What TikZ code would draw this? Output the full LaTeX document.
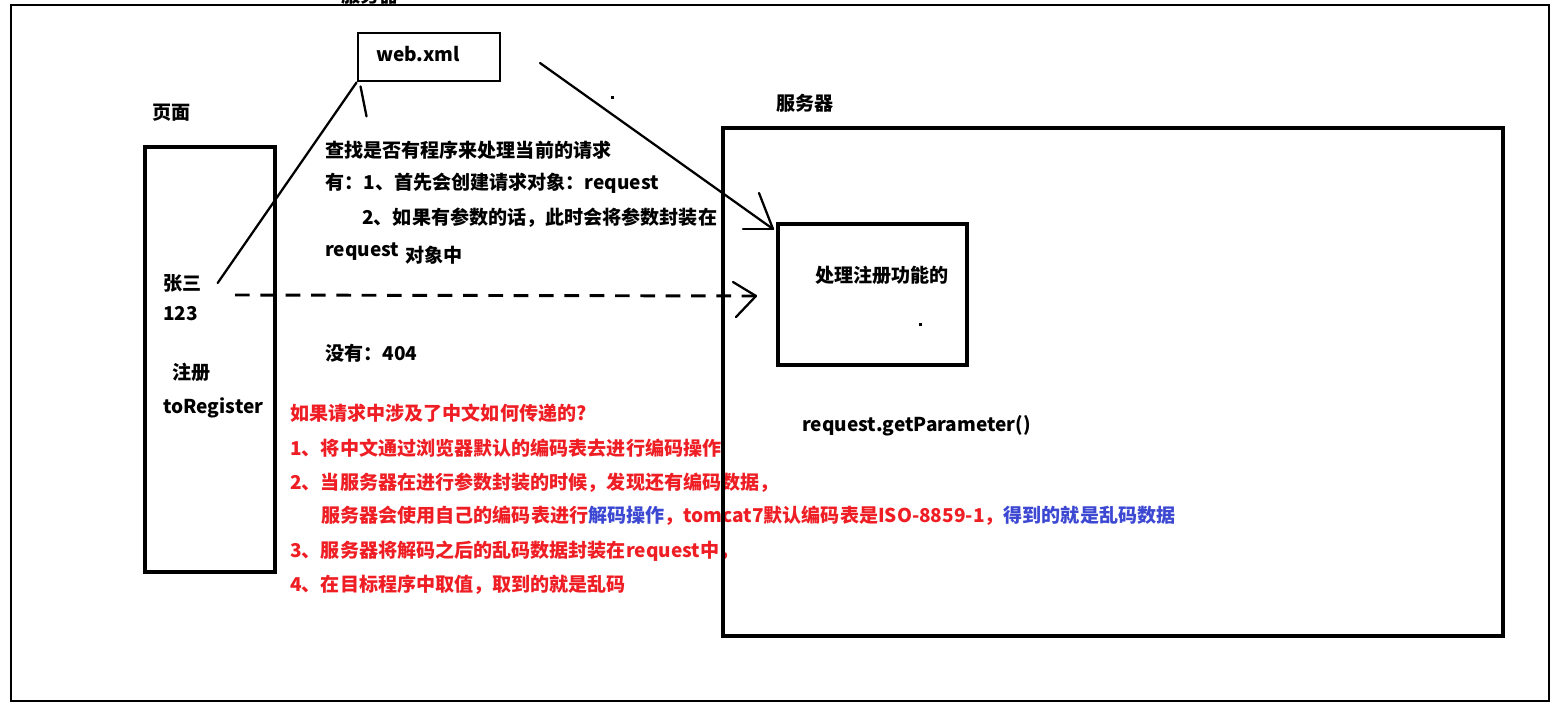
\documentclass[tikz,border=0pt]{standalone}
\usepackage{fontspec}
\setmainfont{Noto Sans CJK SC}
\usetikzlibrary{calc}
\definecolor{redtxt}{RGB}{238,30,36}
\definecolor{bluetxt}{RGB}{60,72,210}
\begin{document}
\begin{tikzpicture}[x=0.75pt,y=-0.75pt,
  font=\bfseries\fontsize{14.3}{17}\selectfont,
  lbl/.style={anchor=west,inner sep=0pt,text=black},
  rlbl/.style={anchor=west,inner sep=0pt,text=redtxt},
  box/.style={draw,line width=3pt,inner sep=0pt},
  conn/.style={line width=1.7pt,line cap=round}]
\path[use as bounding box] (0,0) rectangle (1564,709);
\clip (0,0) rectangle (1564,709);
\fill[white] (0,0) rectangle (1564,709);
% outer frame
\draw[line width=2.2pt] (11,5) rectangle (1549,701);
% cut-off label at top (cut off in the reference too)
\node[inner sep=0pt] (topsrv) at (370,-5) {服务器};
% page
\node[lbl] (pagelbl) at (152,113) {页面};
\node[box,minimum width=97.5pt,minimum height=318.75pt] (page) at (210,359.5) {};
\node[lbl] (zs) at (163,283) {张三};
\node[lbl] (n123) at (163,314) {123};
\node[lbl] (reg) at (172,372) {注册};
\node[lbl] (toreg) at (163,408) {toRegister};
% web.xml
\node[draw,line width=2.2pt,minimum width=106.5pt,minimum height=36pt] (web) at (429,57) {};
\node[lbl] (webtxt) at (376,54) {web.xml};
% explanation text
\node[lbl] (t1) at (325,150) {查找是否有程序来处理当前的请求};
\node[lbl] (t2) at (325,183) {有：1、首先会创建请求对象：request};
\node[lbl] (t3) at (362,218) {2、如果有参数的话，此时会将参数封装在};
\node[lbl] (t4) at (325,252) {request};
\node[lbl] (t5) at (405,255) {对象中};
\node[lbl] (t6) at (325,353) {没有：404};
% red text
\node[rlbl] (r1) at (290,413) {如果请求中涉及了中文如何传递的?};
\node[rlbl] (r2) at (290,448) {1、将中文通过浏览器默认的编码表去进行编码操作};
\node[rlbl] (r3) at (290,483) {2、当服务器在进行参数封装的时候，发现还有编码数据，};
\node[rlbl] (r4) at (321,516) {服务器会使用自己的编码表进行\textcolor{bluetxt}{解码操作}，tomcat7默认编码表是ISO-8859-1，\textcolor{bluetxt}{得到的就是乱码数据}};
\node[rlbl] (r5) at (290,551) {3、服务器将解码之后的乱码数据封装在request中，};
\node[rlbl] (r6) at (290,585) {4、在目标程序中取值，取到的就是乱码};
% server
\node[lbl] (srvlbl) at (776,103) {服务器};
\node[box,minimum width=585pt,minimum height=381pt] (srv) at (1113,382) {};
\node[box,minimum width=141.75pt,minimum height=105.75pt] (inner) at (872.5,294.5) {};
\node[lbl] (innertxt) at (815,275) {处理注册功能的};
\node[lbl] (getp) at (802,426) {request.getParameter()};
% dots
\fill (610.5,96.5) rectangle (613.5,99.5);
\fill (918.5,323.5) rectangle (921.5,326.5);
% connector 张三 -> web.xml
\draw[conn] ($(zs.east)+(16,0)$) -- (web.south west);
\draw[conn] ($(web.south west)+(4,4)$) -- ($(web.south west)+(10,34)$);
% connector web.xml -> inner box
\coordinate (w1) at (540,63);
\coordinate (tipA) at ($(inner.north west)+(-3,7)$);
\draw[conn] (w1) -- (tipA);
\draw[conn] (tipA) -- (759,193);
\draw[conn] (tipA) -- (743,229);
% dashed connector page -> inner box
\coordinate (d0) at (235,295);
\coordinate (tipB) at ($(inner.west)+(-20,1.5)$);
\draw[line width=2.2pt,dash pattern=on 11pt off 8pt] (d0) -- (tipB);
\draw[conn] (tipB) -- (733,282);
\draw[conn] (tipB) -- (736,317);
\end{tikzpicture}
\end{document}
